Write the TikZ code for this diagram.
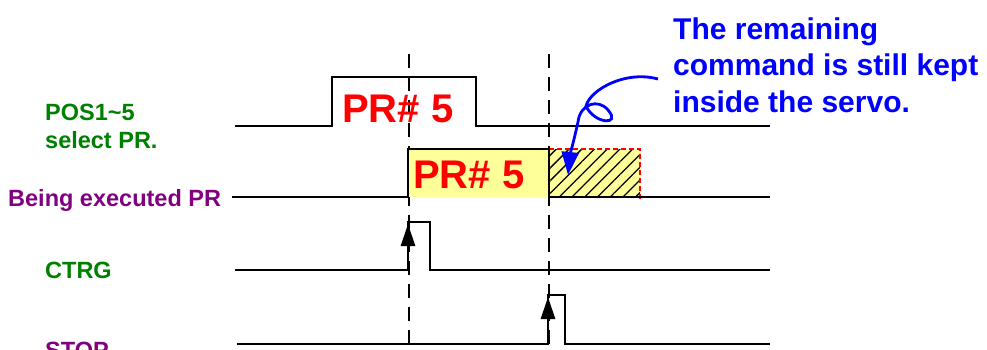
\documentclass[tikz,border=0pt]{standalone}
\usepackage{fontspec}
\setmainfont{Liberation Sans}
\usetikzlibrary{positioning,arrows.meta,patterns.meta}
\definecolor{lblgreen}{RGB}{0,128,0}
\definecolor{lblpurple}{RGB}{128,0,128}
\definecolor{boxyellow}{RGB}{255,255,153}
\tikzset{wave/.style={draw,line width=2.3pt,line join=miter},
  guide/.style={draw,line width=1.5pt,dash pattern=on 14pt off 9pt},
  sig lbl/.style={font=\bfseries\fontsize{23.5}{28}\selectfont,anchor=base west,inner sep=0pt},
  pr lbl/.style={font=\bfseries\fontsize{40}{48}\selectfont,text=red,anchor=base west,inner sep=0pt},
  note lbl/.style={font=\bfseries\fontsize{30}{36}\selectfont,text=blue,anchor=base west,inner sep=0pt},
  edge arrow/.style={draw,line width=2.8pt,-{Triangle[width=14pt,length=22pt]}},
}

\begin{document}
\begin{tikzpicture}[x=1pt,y=-1pt]
\useasboundingbox (0,0) rectangle (987,349);

%% signal names
\node[sig lbl,text=lblgreen] (pos) at (45,120) {POS1\textasciitilde5};
\node[sig lbl,text=lblgreen,anchor=base west] (sel) at ([yshift=-28pt]pos.base west) {select PR.};
\node[sig lbl,text=lblpurple] (exec) at (8,206) {Being executed PR};
\node[sig lbl,text=lblgreen] (ctrg) at (45,278) {CTRG};
\node[sig lbl,text=lblpurple] (stop) at (45,358) {STOP};

%% time marks
\path[guide] (409,54) -- (409,349);
\path[guide] (549,54) -- (549,349);

%% executed PR boxes
\fill[boxyellow] (408,149) rectangle (549,197);
\fill[boxyellow] (549,149) rectangle (640,197);
\fill[pattern={Lines[angle=45,distance=9pt,line width=1.3pt]}] (549,149) rectangle (640,197);
\draw[red,line width=2.4pt,dash pattern=on 5pt off 3pt] (549,149) -- (640,149) -- (640,200);

%% waveforms
\path[wave] (235,126) -- (332,126) -- (332,77) -- (476,77) -- (476,126) -- (770,126);
\path[wave] (232,197) -- (408,197) -- (408,149) -- (549,149) -- (549,197) -- (770,197);
\path[wave] (235,270) -- (408,270) -- (408,222) -- (430,222) -- (430,270) -- (770,270);
\path[wave] (237,344) -- (548,344) -- (548,295) -- (565,295) -- (565,344) -- (770,344);

\coordinate (c low) at (408,270);
\coordinate (c high) at (408,224);
\coordinate (s low) at (548,344);
\coordinate (s high) at (548,297);
\path[edge arrow] (c low) -- (c high);
\path[edge arrow] (s low) -- (s high);

%% PR numbers
\node[pr lbl] (pr1) at (342,122) {PR\# 5};
\node[pr lbl] (pr2) at (413,188) {PR\# 5};

%% note
\node[note lbl] (note1) at (673,39) {The remaining};
\node[note lbl] (note2) at (673,75) {command is still kept};
\node[note lbl] (note3) at (673,112) {inside the servo.};

\coordinate (n start) at ([xshift=-15pt,yshift=-4pt]note2.base west);
\coordinate (n end) at (568,175);
\draw[blue,line width=2.8pt,-{Triangle[width=17pt,length=23pt]}]
  (n start) .. controls (625,70) and (590,90) .. (586,106)
  .. controls (594,124) and (622,126) .. (608,110)
  .. controls (598,98) and (580,104) .. (578,122)
  .. controls (574,140) and (570,155) .. (n end);
\end{tikzpicture}
\end{document}
